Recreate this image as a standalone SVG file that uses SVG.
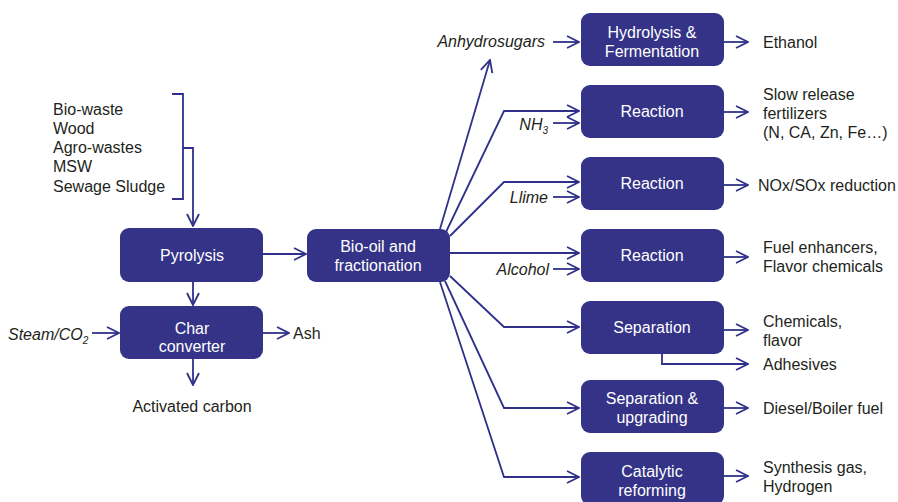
<svg xmlns="http://www.w3.org/2000/svg" width="898" height="502" viewBox="0 0 898 502">
<defs>
<style>
.box{fill:#343387;}
.bt{font-family:"Liberation Sans",Arial,sans-serif;font-size:16px;fill:#ffffff;text-anchor:middle;}
.t{font-family:"Liberation Sans",Arial,sans-serif;font-size:16px;fill:#231f20;}
.i{font-style:italic;text-anchor:end;}
.c{fill:none;stroke:#30308a;stroke-width:1.8;}
.a{marker-end:url(#ah);}
</style>
<marker id="ah" markerUnits="userSpaceOnUse" viewBox="0 0 14 14" markerWidth="14" markerHeight="14" refX="13" refY="7" orient="auto">
<path d="M1,1 L13,7 L1,13" fill="none" stroke="#30308a" stroke-width="1.8"/>
</marker>
</defs>
<rect width="898" height="502" fill="#ffffff"/>

<g id="connectors">
<polyline class="c" points="172,94 183,94 183,199 172,199"/>
<polyline class="c a" points="183,148 193,148 193,226"/>
<line class="c a" x1="263" y1="254" x2="306" y2="254"/>
<line class="c a" x1="193" y1="282" x2="193" y2="305"/>
<line class="c a" x1="92" y1="333" x2="119" y2="333"/>
<line class="c a" x1="263" y1="333" x2="289" y2="333"/>
<line class="c a" x1="193" y1="359" x2="193" y2="385"/>
<line class="c a" x1="440" y1="229" x2="490" y2="60"/>
<polyline class="c a" points="446,232 504,111 579,111"/>
<polyline class="c a" points="450,236 504,182 579,182"/>
<line class="c a" x1="450" y1="253" x2="579" y2="253"/>
<polyline class="c a" points="450,276 504,327 579,327"/>
<polyline class="c a" points="445,281 504,408 579,408"/>
<polyline class="c a" points="440,282 504,477 579,477"/>
<line class="c a" x1="553" y1="42" x2="579" y2="42"/>
<line class="c a" x1="553" y1="123" x2="579" y2="123"/>
<line class="c a" x1="553" y1="197" x2="579" y2="197"/>
<line class="c a" x1="553" y1="269" x2="579" y2="269"/>
<line class="c a" x1="724" y1="42" x2="748" y2="42"/>
<line class="c a" x1="724" y1="112" x2="748" y2="112"/>
<line class="c a" x1="724" y1="185" x2="748" y2="185"/>
<line class="c a" x1="724" y1="257" x2="748" y2="257"/>
<line class="c a" x1="724" y1="330" x2="748" y2="330"/>
<polyline class="c a" points="662,354 662,364 748,364"/>
<line class="c a" x1="724" y1="408" x2="748" y2="408"/>
<line class="c a" x1="724" y1="476" x2="748" y2="476"/>
</g>

<g id="feedstock">
<text class="t" x="53" y="115">Bio-waste</text>
<text class="t" x="53" y="134">Wood</text>
<text class="t" x="53" y="153">Agro-wastes</text>
<text class="t" x="53" y="172">MSW</text>
<text class="t" x="53" y="192">Sewage Sludge</text>
</g>

<g id="pyrolysis">
<rect class="box" x="120" y="228" width="143" height="54" rx="9"/>
<text class="bt" x="192" y="261">Pyrolysis</text>
</g>

<g id="char-converter">
<rect class="box" x="120" y="306" width="143" height="53" rx="9"/>
<text class="bt" x="192" y="334">Char</text>
<text class="bt" x="192" y="352">converter</text>
</g>

<g id="steam">
<text class="t" x="8" y="340" font-style="italic">Steam/CO<tspan font-size="10px" dy="4">2</tspan></text>
</g>
<g id="ash"><text class="t" x="293" y="339">Ash</text></g>
<g id="activated-carbon"><text class="t" x="192" y="412" text-anchor="middle">Activated carbon</text></g>

<g id="bio-oil">
<rect class="box" x="307" y="229" width="143" height="53" rx="9"/>
<text class="bt" x="378" y="252">Bio-oil and</text>
<text class="bt" x="378" y="271">fractionation</text>
</g>

<g id="anhydrosugars"><text class="t i" x="545" y="47">Anhydrosugars</text></g>
<g id="nh3"><text class="t i" x="548" y="130">NH<tspan font-size="10px" dy="4">3</tspan></text></g>
<g id="llime"><text class="t i" x="548" y="203">Llime</text></g>
<g id="alcohol"><text class="t i" x="549" y="275">Alcohol</text></g>

<g id="hydrolysis">
<rect class="box" x="581" y="13" width="143" height="53" rx="9"/>
<text class="bt" x="652" y="38">Hydrolysis &amp;</text>
<text class="bt" x="652" y="57">Fermentation</text>
</g>
<g id="reaction1">
<rect class="box" x="581" y="85" width="143" height="53" rx="9"/>
<text class="bt" x="652" y="117">Reaction</text>
</g>
<g id="reaction2">
<rect class="box" x="581" y="157" width="143" height="53" rx="9"/>
<text class="bt" x="652" y="189">Reaction</text>
</g>
<g id="reaction3">
<rect class="box" x="581" y="229" width="143" height="53" rx="9"/>
<text class="bt" x="652" y="261">Reaction</text>
</g>
<g id="separation">
<rect class="box" x="581" y="301" width="143" height="53" rx="9"/>
<text class="bt" x="652" y="333">Separation</text>
</g>
<g id="separation-upgrading">
<rect class="box" x="581" y="380" width="143" height="53" rx="9"/>
<text class="bt" x="652" y="404">Separation &amp;</text>
<text class="bt" x="652" y="423">upgrading</text>
</g>
<g id="catalytic">
<rect class="box" x="581" y="452" width="143" height="53" rx="9"/>
<text class="bt" x="652" y="477">Catalytic</text>
<text class="bt" x="652" y="496">reforming</text>
</g>

<g id="products">
<text class="t" x="763" y="48">Ethanol</text>
<text class="t" x="763" y="100">Slow release</text>
<text class="t" x="763" y="119">fertilizers</text>
<text class="t" x="763" y="138">(N, CA, Zn, Fe…)</text>
<text class="t" x="758" y="191">NOx/SOx reduction</text>
<text class="t" x="763" y="253">Fuel enhancers,</text>
<text class="t" x="763" y="272">Flavor chemicals</text>
<text class="t" x="763" y="327">Chemicals,</text>
<text class="t" x="763" y="346">flavor</text>
<text class="t" x="763" y="370">Adhesives</text>
<text class="t" x="763" y="414">Diesel/Boiler fuel</text>
<text class="t" x="763" y="473">Synthesis gas,</text>
<text class="t" x="763" y="492">Hydrogen</text>
</g>
</svg>
